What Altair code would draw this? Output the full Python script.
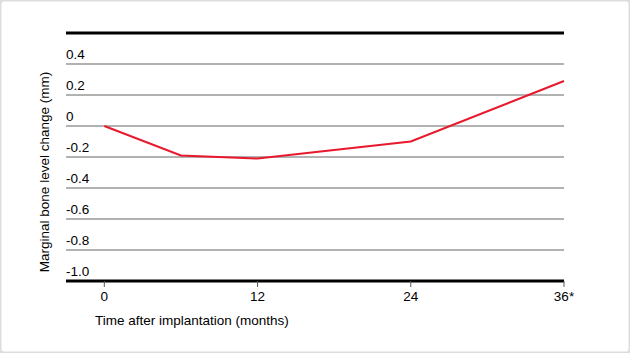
import altair as alt
import pandas as pd

months = [0, 6, 12, 24, 36]
change = [0.0, -0.19, -0.21, -0.10, 0.29]

grid_values = [0.4, 0.2, 0.0, -0.2, -0.4, -0.6, -0.8]
frame_values = [0.6, -1.0]
y_label_values = [0.4, 0.2, 0.0, -0.2, -0.4, -0.6, -0.8, -1.0]
y_label_texts = ["0.4", "0.2", "0", "-0.2", "-0.4", "-0.6", "-0.8", "-1.0"]
x_tick_values = [0, 12, 24, 36]
x_tick_texts = ["0", "12", "24", "36*"]
x_min, x_max = -3, 36

FONT = "Liberation Sans"
FS = 13.5
xs = alt.Scale(domain=[x_min, x_max], range=[66, 564], nice=False, zero=False)
ys = alt.Scale(domain=[-1.0, 0.6], range=[281, 33], nice=False, zero=False)

line_df = pd.DataFrame({"month": months, "change": change})
grid_df = pd.DataFrame({"v": grid_values})
frame_df = pd.DataFrame({"v": frame_values})
ylab_df = pd.DataFrame({"v": y_label_values, "t": y_label_texts})
xtick_df = pd.DataFrame({"m": x_tick_values, "t": x_tick_texts})

def spans(c):
    return c.transform_calculate(xa=str(x_min), xb=str(x_max), yb="-1.0")

grid = spans(alt.Chart(grid_df)).mark_rule(color="#666666", strokeWidth=1.2).encode(
    y=alt.Y("v:Q", scale=ys, axis=None),
    x=alt.X("xa:Q", scale=xs, axis=None),
    x2="xb:Q",
)
frame = spans(alt.Chart(frame_df)).mark_rule(color="#000000", strokeWidth=3.2).encode(
    y=alt.Y("v:Q", scale=ys, axis=None),
    x=alt.X("xa:Q", scale=xs, axis=None),
    x2="xb:Q",
)
ylabels = spans(alt.Chart(ylab_df)).mark_text(
    align="left", baseline="bottom", dy=-2, font=FONT, fontSize=FS, color="#000000"
).encode(
    y=alt.Y("v:Q", scale=ys, axis=None),
    x=alt.X("xa:Q", scale=xs, axis=None),
    text="t:N",
)
ticks = spans(alt.Chart(xtick_df)).mark_rule(color="#555555", strokeWidth=1).encode(
    x=alt.X("m:Q", scale=xs, axis=None),
    y=alt.Y("yb:Q", scale=ys, axis=None),
    y2=alt.value(287),
)
xlabels = alt.Chart(xtick_df).mark_text(
    align="center", baseline="middle", font=FONT, fontSize=FS, color="#000000"
).encode(
    x=alt.X("m:Q", scale=xs, axis=None),
    y=alt.value(297),
    text="t:N",
)
line = alt.Chart(line_df).mark_line(color="#e8192c", strokeWidth=2).encode(
    x=alt.X("month:Q", scale=xs, axis=None),
    y=alt.Y("change:Q", scale=ys, axis=None),
)
xtitle = alt.Chart(pd.DataFrame({"t": ["Time after implantation (months)"]})).mark_text(
    align="left", baseline="middle", font=FONT, fontSize=FS, color="#000000"
).encode(x=alt.value(95), y=alt.value(321), text="t:N")
ytitle = alt.Chart(pd.DataFrame({"t": ["Marginal bone level change (mm)"]})).mark_text(
    align="center", baseline="middle", angle=270, font=FONT, fontSize=FS, color="#000000"
).encode(x=alt.value(45), y=alt.value(172), text="t:N")

chart = alt.layer(grid, frame, ticks, line, ylabels, xlabels, xtitle, ytitle).properties(
    width=630, height=353, padding=0, autosize=alt.AutoSizeParams(type="none"),
    background="white",
).configure_view(stroke="#dddddd", strokeWidth=3, cornerRadius=4)

chart.save("out.html", embed_options={"renderer": "svg", "actions": False})
